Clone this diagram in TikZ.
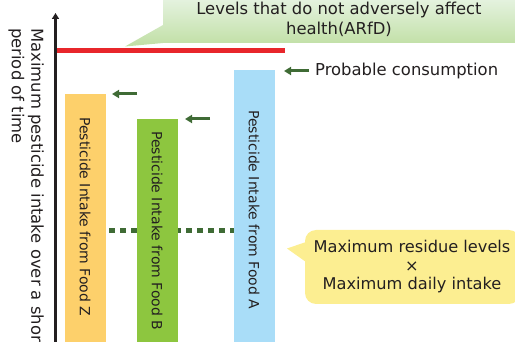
\documentclass[tikz,border=0pt]{standalone}
\usepackage{fontspec}
\setmainfont{DejaVu Sans}
\usetikzlibrary{arrows.meta}
\definecolor{axisc}{HTML}{231F20}
\definecolor{redl}{HTML}{E8262B}
\definecolor{colZ}{HTML}{FDD06B}
\definecolor{colB}{HTML}{8DC63F}
\definecolor{colA}{HTML}{A9DDF8}
\definecolor{arrg}{HTML}{3F6B35}
\definecolor{yel}{HTML}{FCEE91}
\definecolor{grnT}{HTML}{E4F2DE}
\definecolor{grnB}{HTML}{C0DFA4}
\definecolor{txt}{HTML}{231F20}
\begin{document}
\begin{tikzpicture}[x=1pt,y=-1pt,
  bar/.style={draw=none, minimum width=41pt, minimum height=290pt, anchor=north west, inner sep=0pt, outer sep=0pt},
  bartext/.style={rotate=-90, anchor=west, font=\fontsize{14}{16}\selectfont, text=txt, inner sep=0pt},
  lbl/.style={font=\fontsize{16.4}{19.5}\selectfont, text=txt, align=center, inner sep=0pt},
  marker/.style={draw=arrg, line width=3pt, -{Triangle[length=7pt,width=8pt]}},
]
\clip (0,0) rectangle (515,342);
% y-axis label
\node[lbl, rotate=-90, anchor=north west, align=left] (ylab) at (44,28) {Maximum pesticide intake over a short\\period of time};
% dotted line (behind bars)
\coordinate (dotL) at (109,231);
\coordinate (dotR) at (234,231);
\draw[draw=arrg, line width=5pt, dash pattern=on 5.5pt off 5.5pt] (dotL) -- (dotR);
% bars
\node[bar, fill=colZ] (barZ) at (65,94) {};
\node[bar, fill=colB] (barB) at (137,119) {};
\node[bar, fill=colA] (barA) at (234,70) {};
\node[bartext] (tZ) at (85,117) {Pesticide Intake from Food Z};
\node[bartext] (tB) at (157,131) {Pesticide Intake from Food B};
\node[bartext] (tA) at (254,110) {Pesticide Intake from Food A};
% axis
\coordinate (axB) at (55.5,342);
\coordinate (axT) at (55.5,13);
\draw[draw=axisc, line width=3pt, -{Triangle[length=6pt,width=7pt]}] (axB) -- (axT);
% red line
\coordinate (redL) at (57,50.5);
\coordinate (redR) at (285,50.5);
\draw[draw=redl, line width=5pt] (redL) -- (redR);
% green callout
\shade[top color=grnT, bottom color=grnB]
  (163,0) -- (515,0) -- (515,43) -- (163,43) -- (125,46.5) -- (163,25) -- cycle;
\node[lbl] (arfd) at (339,19.5) {Levels that do not adversely affect\\health(ARfD)};
% markers
\coordinate (mZs) at (137,94);  \coordinate (mZe) at (112,94);
\coordinate (mBs) at (210,119); \coordinate (mBe) at (185,119);
\coordinate (mAs) at (309,71);  \coordinate (mAe) at (284,71);
\draw[marker] (mZs) -- (mZe);
\draw[marker] (mBs) -- (mBe);
\draw[marker] (mAs) -- (mAe);
\node[lbl, anchor=west] (prob) at (315,71) {Probable consumption};
% yellow callout
\fill[yel, rounded corners=11pt] (305,230) -- (520,230) -- (520,304) -- (305,304) -- cycle;
\fill[yel] (306,242) -- (287,248.5) -- (306,262) -- cycle;
\node[lbl, align=center, font=\fontsize{16.2}{18.5}\selectfont] (mrl) at (412,267) {Maximum residue levels\\×\\Maximum daily intake};
\end{tikzpicture}
\end{document}
